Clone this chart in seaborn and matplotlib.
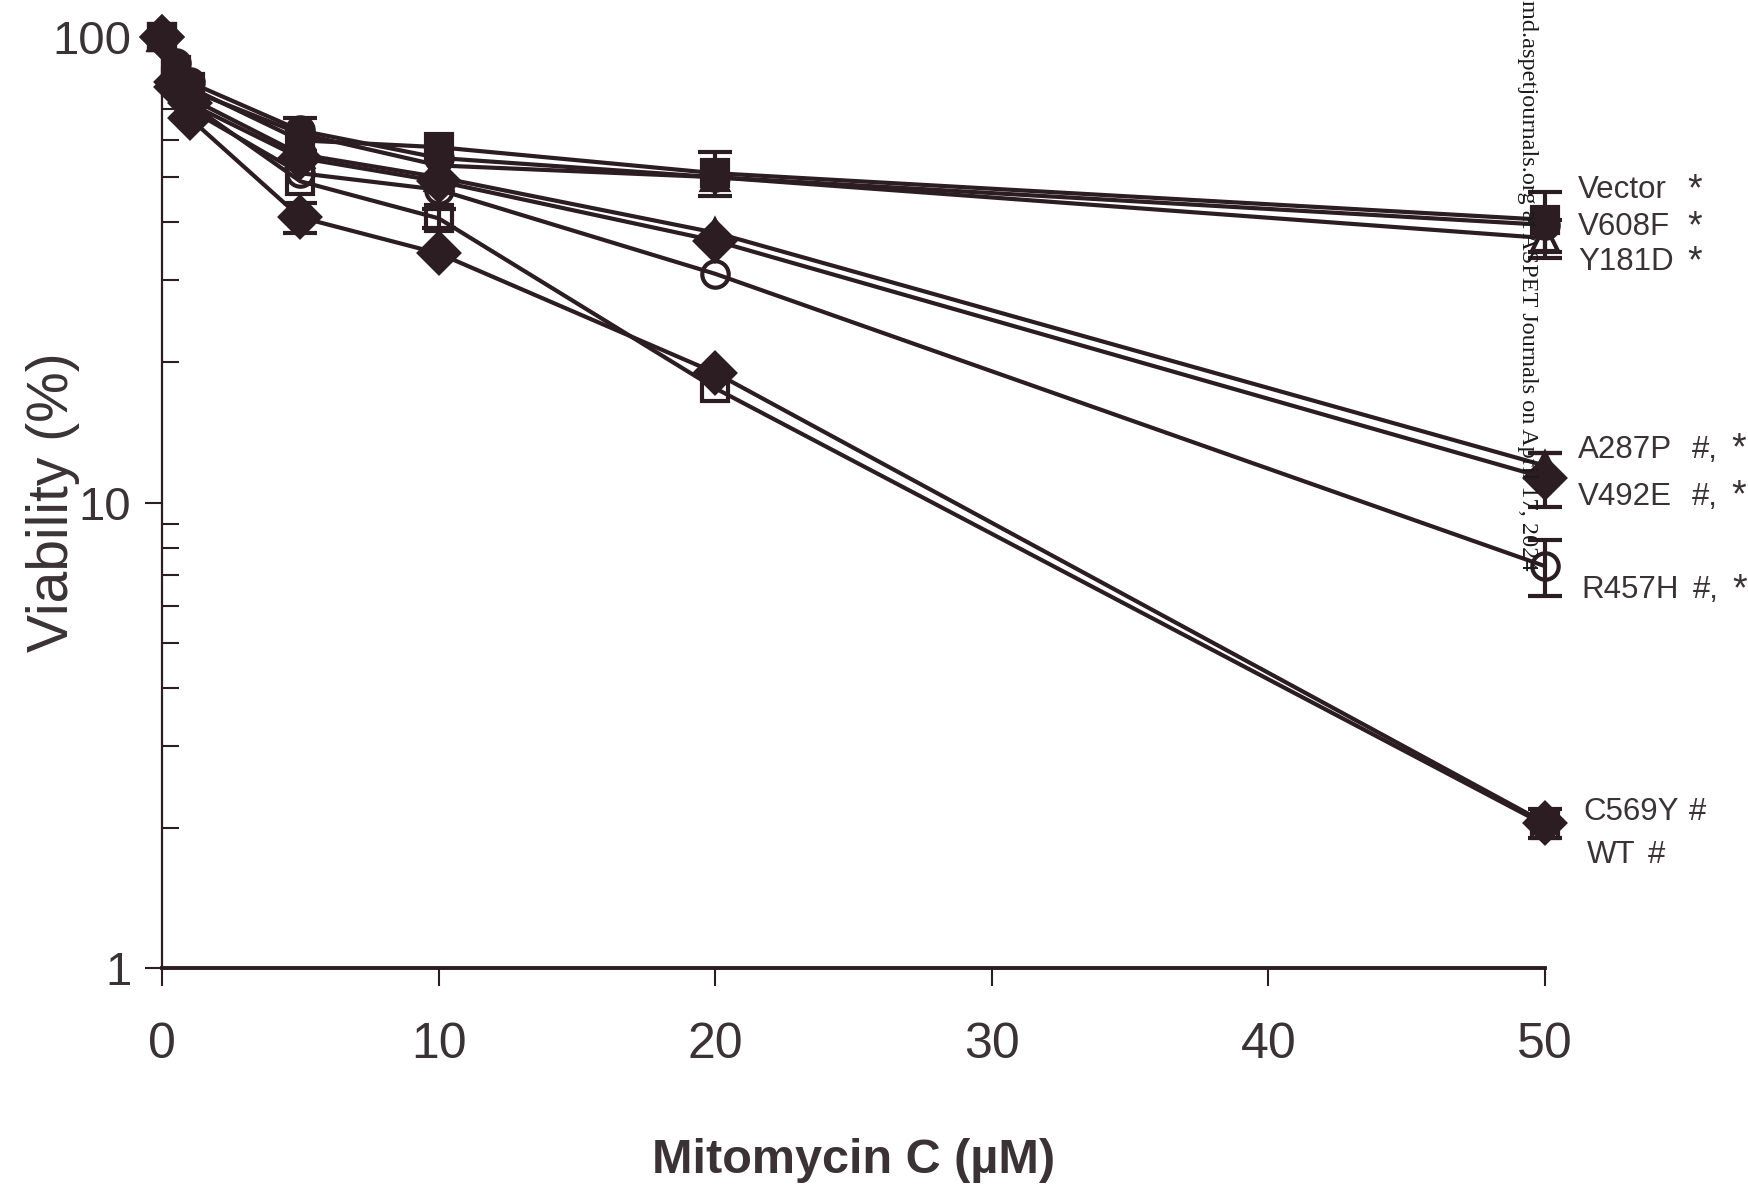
import numpy as np
import pandas as pd
import matplotlib
matplotlib.use("Agg")
import matplotlib.pyplot as plt
import seaborn as sns

# ==========================================
# Data
# ==========================================
dose = [0, 0.5, 1, 5, 10, 20, 50]

vector = [100, 85, 78, 60, 58, 51, 40.5]
v608f = [100, 88, 80, 63, 55, 50, 39.5]
y181d = [100, 85, 77, 62, 53, 50, 37]
a287p = [100, 82, 74, 56, 50, 38, 12]
v492e = [100, 80, 72, 55, 49, 36.5, 11.3]
r457h = [100, 80, 70, 51, 47, 31, 7.3]
c569y = [100, 78, 67, 41, 34.3, 19, 2.05]
wt = [100, 80, 72, 49, 40.8, 17.6, 2.03]

# error bars (only where visible in the figure)
vector_err = [0, 0, 0, 0, 0, 5.5, 6]
y181d_err = [0, 0, 0, 5, 0, 0, 3.5]
a287p_err = [0, 0, 0, 0, 0, 0, 0.8]
v492e_err = [0, 0, 0, 0, 0, 0, 1.5]
r457h_err = [0, 0, 0, 0, 0, 0, 1.0]
c569y_err = [0, 0, 0, 3, 0, 0, 0.15]
wt_err = [0, 0, 0, 0, 2, 0, 0]

# right-hand series labels: name, significance marks
names = ["Vector", "V608F", "Y181D", "A287P", "V492E", "R457H", "C569Y", "WT"]
hash_marks = ["", "", "", "#,", "#,", "#,", "#", "#"]
star_marks = [True, True, True, True, True, True, False, False]
label_y = [46.9, 39, 32.9, 13, 10.3, 6.49, 2.16, 1.75]
label_x = [51.2, 51.2, 51.2, 51.2, 51.2, 51.3, 51.4, 51.5]
hash_x = [0, 0, 0, 55.3, 55.3, 55.35, 55.2, 53.7]
star_x = [55.4, 55.4, 55.4, 57.0, 57.0, 57.05, 0, 0]

# ==========================================
# Style
# ==========================================
sns.set_theme(style="ticks")
plt.rcParams['font.family'] = ['Liberation Sans', 'DejaVu Sans']

ink = "#2b1d22"
txt = "#3b3236"

values = [vector, v608f, y181d, a287p, v492e, r457h, c569y, wt]
errs = [vector_err, [0] * 7, y181d_err, a287p_err, v492e_err, r457h_err, c569y_err, wt_err]
markers = ["s", "o", "^", "^", "D", "o", "D", "s"]
filled = [True, True, False, True, True, False, True, False]

fig = plt.figure(figsize=(17.49, 11.92), dpi=100)
ax = fig.add_axes([0.0926, 0.1879, 0.7908, 0.781])

for vals, err, m, f in zip(values, errs, markers, filled):
    sns.lineplot(x=dose, y=vals, ax=ax, color=ink, linewidth=3.0,
                 marker=m, markersize=19 if m != "D" else 20,
                 markerfacecolor=ink if f else "none",
                 markeredgecolor=ink, markeredgewidth=3.0,
                 clip_on=False, zorder=3)
    e = np.array(err)
    idx = e > 0
    if idx.any():
        ax.errorbar(np.array(dose)[idx], np.array(vals)[idx], yerr=e[idx],
                    fmt="none", ecolor=ink, elinewidth=3.0, capsize=12,
                    capthick=3.0, clip_on=False, zorder=3)

ax.set_yscale("log")
ax.set_xlim(0, 50)
ax.set_ylim(1, 100)

ax.set_xticks([0, 10, 20, 30, 40, 50])
ax.set_yticks([1, 10, 100])
ax.set_yticklabels(["1", "10", "100"])
ax.yaxis.set_minor_locator(matplotlib.ticker.LogLocator(base=10, subs=np.arange(2, 10)))
ax.yaxis.set_minor_formatter(matplotlib.ticker.NullFormatter())

ax.tick_params(axis="x", direction="out", length=13, width=1.5, colors=ink,
               labelsize=36, labelcolor=txt, pad=26)
ax.tick_params(axis="y", which="major", direction="out", length=12, width=1.5,
               colors=ink, labelsize=34, labelcolor=txt, pad=10)
ax.tick_params(axis="y", which="minor", direction="in", length=12, width=1.5, colors=ink)

for s in ["top", "right"]:
    ax.spines[s].set_visible(False)
ax.spines["left"].set_linewidth(1.6)
ax.spines["bottom"].set_linewidth(2.8)
ax.spines["left"].set_color(ink)
ax.spines["bottom"].set_color(ink)

ax.set_xlabel("Mitomycin C (\u00b5M)", fontsize=35, fontweight="bold", color=txt, labelpad=50)
ax.set_ylabel("Viability (%)", fontsize=41, color=txt, labelpad=-20)

# series labels on the right
for n, h, s, lx, ly, hx, sx in zip(names, hash_marks, star_marks, label_x,
                                   label_y, hash_x, star_x):
    ax.text(lx, ly, n, fontsize=22.5, color=txt, va="center", ha="left", clip_on=False)
    if h:
        ax.text(hx, ly, h, fontsize=22.5, color=txt, va="center", ha="left", clip_on=False)
    if s:
        ax.text(sx, ly, "*", fontsize=27, color=txt, va="center", ha="center",
                clip_on=False)

# scanned download stamp along the right side
fig.text(1528 / 1749, 1.0, "md.aspetjournals.org at ASPET Journals on April 17, 2024",
         rotation=270, fontsize=17.5, family="Liberation Serif", color="#1a1a1a",
         ha="center", va="top")

fig.savefig("out.png", dpi=100, facecolor="white")
